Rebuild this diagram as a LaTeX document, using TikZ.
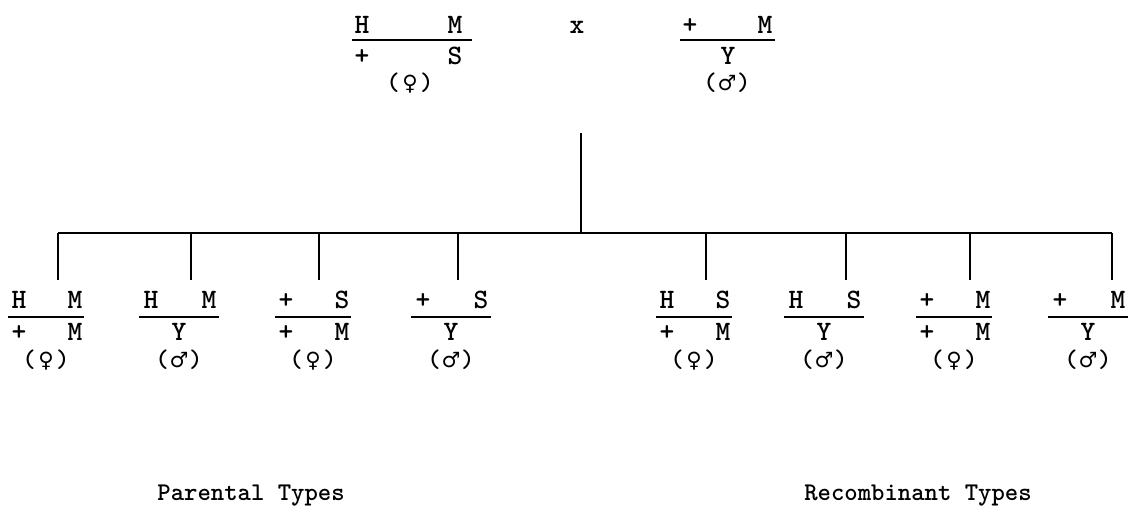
\documentclass[tikz,border=0pt]{standalone}
\usepackage{fontspec}
\setmonofont{lmmonolt10-bold.otf}
\newfontfamily\symbfont{DejaVu Sans}
\usetikzlibrary{positioning,calc}

\begin{document}
\begin{tikzpicture}[
  x=0.02cm, y=-0.02cm,
  font=\ttfamily\fontsize{14.5}{16}\selectfont,
  allele/.style={anchor=base, inner sep=0pt, font=\ttfamily\fontsize{16}{18}\selectfont},
  sexnode/.style={anchor=base, inner sep=0pt},
  typelabel/.style={anchor=base, inner sep=0pt},
  bar/.style={line width=1pt},
  tree/.style={line width=1.2pt}]
\useasboundingbox (0,0) rectangle (1142,521);
% parents
\node[allele] (p1-tl) at (362,33) {H};
\node[allele] (p1-tr) at (455,33) {M};
\node[allele] (p1-bl) at (362,64) {+};
\node[allele] (p1-br) at (455,64) {S};
\node[sexnode] (p1-sex) at (410,90) {(\makebox[0.8em]{\symbfont\fontsize{12}{12}\selectfont ♀})};
\draw[bar] (352,40) -- (472,40);
\node[allele] (cross) at (577,33) {x};
\node[allele] (p2-tl) at (690,33) {+};
\node[allele] (p2-tr) at (765,33) {M};
\node[allele] (p2-b) at (728,64) {Y};
\node[sexnode] (p2-sex) at (727,90) {(\makebox[0.8em]{\symbfont\fontsize{12}{12}\selectfont ♂})};
\draw[bar] (680,40) -- (775,40);
% tree
\coordinate (stem) at (581,133);
\coordinate (branch) at (581,233);
\draw[tree] (stem) -- (branch);
% offspring, females
\foreach \n/\cx/\tx/\a/\b in {1/46/58/H/M, 3/313/319/+/S, 5/694/706/H/S, 7/954/970/+/M}{
  \node[allele] (g\n-tl) at (\cx-27,308) {\a};
  \node[allele] (g\n-tr) at (\cx+29,308) {\b};
  \node[allele] (g\n-bl) at (\cx-27,340) {+};
  \node[allele] (g\n-br) at (\cx+29,340) {M};
  \node[sexnode] (g\n-sex) at (\cx,367) {(\makebox[0.8em]{\symbfont\fontsize{12}{12}\selectfont ♀})};
  \draw[bar] (\cx-38,317) -- (\cx+38,317);
  \coordinate (t\n) at (\tx,280);
}
% offspring, males
\foreach \n/\cx/\tx/\a/\b in {2/179/191/H/M, 4/451/458/+/S, 6/824/846/H/S, 8/1088/1112/+/M}{
  \node[allele] (g\n-tl) at (\cx-28,308) {\a};
  \node[allele] (g\n-tr) at (\cx+30,308) {\b};
  \node[allele] (g\n-b) at (\cx,340) {Y};
  \node[sexnode] (g\n-sex) at (\cx,367) {(\makebox[0.8em]{\symbfont\fontsize{12}{12}\selectfont ♂})};
  \draw[bar] (\cx-40,317) -- (\cx+40,317);
  \coordinate (t\n) at (\tx,280);
}
\draw[tree] (t1 |- branch) -- (t8 |- branch);
\foreach \n in {1,...,8}
  \draw[tree] (t\n |- branch) -- (t\n);
\node[typelabel] (parental) at (251,500) {Parental Types};
\node[typelabel] (recomb) at (918,500) {Recombinant Types};
\end{tikzpicture}
\end{document}
